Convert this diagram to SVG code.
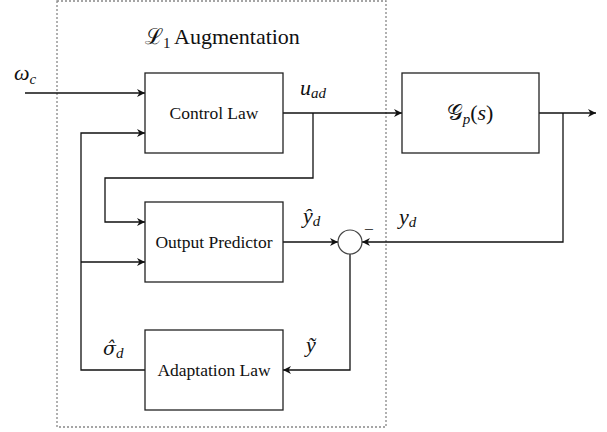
<svg xmlns="http://www.w3.org/2000/svg" width="607" height="432" viewBox="0 0 607 432">
<style>
.box{fill:#fff;stroke:#222;stroke-width:1.3}
.ln{fill:none;stroke:#111;stroke-width:1.3}
.lbl{font-family:"Liberation Serif","Times New Roman",serif;font-size:17.5px;fill:#111}
.m{font-family:"Liberation Serif","DejaVu Serif",serif;font-style:italic;font-size:22px;fill:#111}
.up{font-style:normal}
.sub{font-size:15px}
</style>
<defs>
<marker id="ah" viewBox="0 0 10 10" refX="10" refY="5" markerWidth="8" markerHeight="8" markerUnits="userSpaceOnUse" orient="auto">
<path d="M0,0 L10,5 L0,10 L3,5 Z" fill="#111"/>
</marker>
</defs>
<rect id="augmentation" x="57" y="1" width="329" height="426" fill="none" stroke="#888" stroke-width="1.3" stroke-dasharray="2 2"/>
<g id="title"><text class="m" x="145" y="44" font-size="21.5"><tspan class="up">ℒ</tspan><tspan class="sub up" dy="4">1</tspan><tspan class="up" dy="-4" x="174">Augmentation</tspan></text></g>
<g id="connectors">
<path class="ln" d="M25,93 H145" marker-end="url(#ah)"/>
<path class="ln" d="M283,113 H402" marker-end="url(#ah)"/>
<path class="ln" d="M313,113 V178 H105 V222 H145" marker-end="url(#ah)"/>
<path class="ln" d="M145,370 H81 V133 H145" marker-end="url(#ah)"/>
<path class="ln" d="M81,262 H145" marker-end="url(#ah)"/>
<path class="ln" d="M283,242 H338" marker-end="url(#ah)"/>
<path class="ln" d="M539,113 H596" marker-end="url(#ah)"/>
<path class="ln" d="M563,113 V242 H362" marker-end="url(#ah)"/>
<path class="ln" d="M350,254 V370 H283" marker-end="url(#ah)"/>
</g>
<g id="control-law"><rect class="box" x="145" y="73" width="138" height="80"/><text class="lbl" x="214" y="119" text-anchor="middle">Control Law</text></g>
<g id="plant"><rect class="box" x="402" y="73" width="137" height="80"/><text class="m" x="470" y="120" text-anchor="middle"><tspan class="up">𝒢</tspan><tspan class="sub" dy="4">p</tspan><tspan class="up" dy="-4">(</tspan>s<tspan class="up">)</tspan></text></g>
<g id="output-predictor"><rect class="box" x="145" y="202" width="138" height="80"/><text class="lbl" x="214" y="248" text-anchor="middle">Output Predictor</text></g>
<g id="adaptation-law"><rect class="box" x="145" y="330" width="138" height="80"/><text class="lbl" x="214" y="376" text-anchor="middle">Adaptation Law</text></g>
<g id="sum"><circle cx="350" cy="242" r="12" fill="#fff" stroke="#444" stroke-width="1.2"/><text class="lbl" x="364" y="235" font-size="14">−</text></g>
<g id="labels">
<text class="m" x="14" y="80">ω<tspan class="sub" dy="4">c</tspan></text>
<text class="m" x="300" y="95">u<tspan class="sub" dy="3">ad</tspan></text>
<text class="m" x="303" y="223">ŷ<tspan class="sub" dy="3">d</tspan></text>
<text class="m" x="399" y="224">y<tspan class="sub" dy="3">d</tspan></text>
<text class="m" x="103" y="355" style="font-family:'DejaVu Serif',serif;font-size:19px">σ̂</text>
<text class="m sub" x="116" y="358">d</text>
<text class="m" x="306" y="352">ỹ</text>
</g>
</svg>
